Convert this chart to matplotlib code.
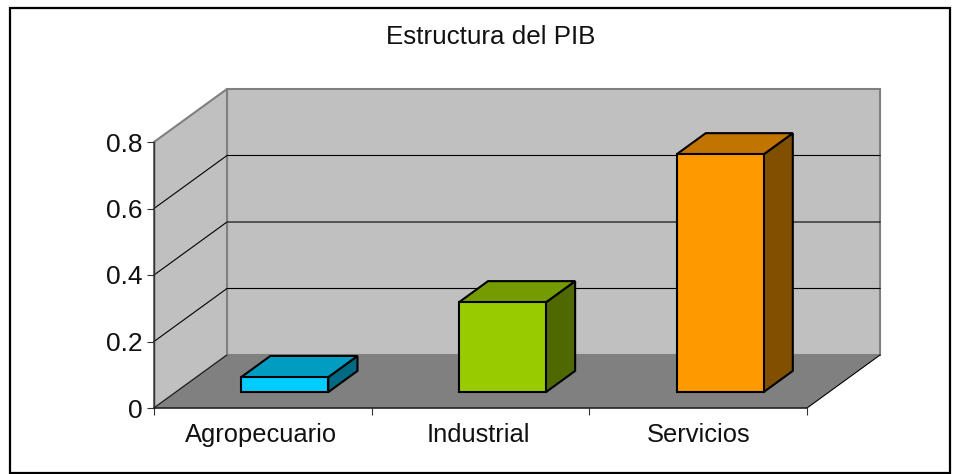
import matplotlib
matplotlib.use("Agg")
import matplotlib.pyplot as plt
from matplotlib.patches import Polygon, Rectangle

W, H = 960, 474

title = "Estructura del PIB"
categories = ["Agropecuario", "Industrial", "Servicios"]
values = [0.045, 0.27, 0.715]
yticks = [0, 0.2, 0.4, 0.6, 0.8]
ytick_labels = ["0", "0.2", "0.4", "0.6", "0.8"]
front_colors = ["#00ccff", "#99cc00", "#ff9900"]
top_colors = ["#009cc2", "#749b00", "#c27400"]
side_colors = ["#006a85", "#4f6900", "#805000"]

# oblique projection: one unit of depth moves this far in data units
DX = 73 / 217.67
DY = 53 / 332.5
BAR_W = 0.4
D0, D1 = 0.3, 0.7


def pr(x, y, d):
    return (x + d * DX, y + d * DY)


plt.rcParams["font.family"] = ["Liberation Sans", "DejaVu Sans"]
fig = plt.figure(figsize=(W / 100, H / 100), dpi=100)
fig.add_artist(Rectangle((9.5 / W, 1 - 472.5 / H), 940.5 / W, 465 / H, transform=fig.transFigure,
                         fill=False, ec="black", lw=1.6))

ax = fig.add_axes([154 / W, 1 - 408 / H, 653 / W, 266 / H])
ax.set_xlim(0, 3)
ax.set_ylim(0, 0.8)
ax.patch.set_visible(False)
for s in ax.spines.values():
    s.set_visible(False)

# walls and floor
grey = "#808080"
wall = "#c0c0c0"
ax.add_patch(Polygon([pr(0, 0, 1), pr(3, 0, 1), pr(3, 0.8, 1), pr(0, 0.8, 1)], fc=wall, ec=grey, lw=1.5, clip_on=False))
ax.add_patch(Polygon([pr(0, 0, 0), pr(0, 0, 1), pr(0, 0.8, 1), pr(0, 0.8, 0)], fc=wall, ec=grey, lw=1.5, clip_on=False))
ax.add_patch(Polygon([pr(0, 0, 0), pr(3, 0, 0), pr(3, 0, 1), pr(0, 0, 1)], fc=grey, ec="none", clip_on=False))

# gridlines on side wall and back wall
for v in yticks[1:-1]:
    a, b, c = pr(0, v, 0), pr(0, v, 1), pr(3, v, 1)
    ax.plot([a[0], b[0], c[0]], [a[1], b[1], c[1]], color="black", lw=0.8, clip_on=False)
a, b = pr(0, 0, 0), pr(0, 0, 1)
ax.plot([a[0], b[0]], [a[1], b[1]], color="black", lw=0.6, clip_on=False)
a, b = pr(3, 0, 0), pr(3, 0, 1)
ax.plot([a[0], b[0]], [a[1], b[1]], color="black", lw=0.8, clip_on=False)

# axis lines and ticks
ax.plot([0, 0], [0, 0.8], color="#333333", lw=1.0, clip_on=False)
ax.plot([0, 3], [0, 0], color="#222222", lw=1.2, clip_on=False)
ax.set_yticks(yticks, ytick_labels, fontsize=19, color="#111111")
ax.set_xticks([0, 1, 2, 3], ["", "", "", ""])
ax.set_xticks([0.49, 1.49, 2.5], categories, minor=True, fontsize=18.4, color="#111111")
ax.tick_params(axis="y", length=5, width=0.8, pad=3, color="#333333")
ax.tick_params(axis="x", which="major", length=5, width=0.8, color="#333333")
ax.tick_params(axis="x", which="minor", length=0, pad=11)

# bars
for i, v in enumerate(values):
    x0 = i + 0.5 - BAR_W / 2
    x1 = x0 + BAR_W
    side = [pr(x1, 0, D0), pr(x1, 0, D1), pr(x1, v, D1), pr(x1, v, D0)]
    top = [pr(x0, v, D0), pr(x1, v, D0), pr(x1, v, D1), pr(x0, v, D1)]
    front = [pr(x0, 0, D0), pr(x1, 0, D0), pr(x1, v, D0), pr(x0, v, D0)]
    for pts, col in [(side, side_colors[i]), (top, top_colors[i]), (front, front_colors[i])]:
        ax.add_patch(Polygon(pts, fc=col, ec="black", lw=1.5, joinstyle="miter", clip_on=False, zorder=3))

fig.text(491 / W, 1 - 37 / H, title, ha="center", va="center", fontsize=18.7, color="#111111")

fig.savefig("out.png", dpi=100)
